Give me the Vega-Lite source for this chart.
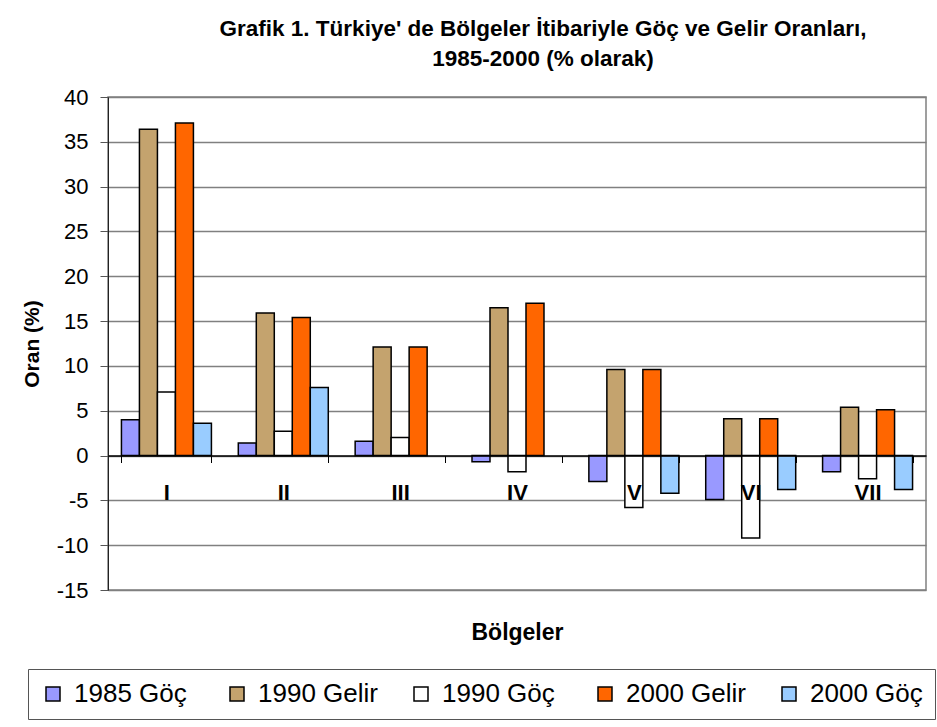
{
  "$schema": "https://vega.github.io/schema/vega-lite/v6.json",
  "width": 818,
  "height": 493,
  "autosize": {"type": "none"},
  "padding": {"left": 108, "top": 97, "right": 11, "bottom": 137},
  "background": "white",
  "title": {
    "text": ["Grafik 1. Türkiye' de Bölgeler İtibariyle Göç ve Gelir Oranları,", "1985-2000 (% olarak)"],
    "font": "Liberation Sans",
    "fontSize": 22.5,
    "fontWeight": "bold",
    "color": "#000000",
    "anchor": "middle",
    "frame": "group",
    "dx": 26,
    "lineHeight": 30,
    "offset": 16
  },
  "data": {
    "values": [
      {"region": "I", "series": "1985 Göç", "value": 4.0},
      {"region": "I", "series": "1990 Gelir", "value": 36.4},
      {"region": "I", "series": "1990 Göç", "value": 7.1},
      {"region": "I", "series": "2000 Gelir", "value": 37.1},
      {"region": "I", "series": "2000 Göç", "value": 3.6},
      {"region": "II", "series": "1985 Göç", "value": 1.4},
      {"region": "II", "series": "1990 Gelir", "value": 15.9},
      {"region": "II", "series": "1990 Göç", "value": 2.7},
      {"region": "II", "series": "2000 Gelir", "value": 15.4},
      {"region": "II", "series": "2000 Göç", "value": 7.6},
      {"region": "III", "series": "1985 Göç", "value": 1.6},
      {"region": "III", "series": "1990 Gelir", "value": 12.1},
      {"region": "III", "series": "1990 Göç", "value": 2.0},
      {"region": "III", "series": "2000 Gelir", "value": 12.1},
      {"region": "IV", "series": "1985 Göç", "value": -0.7},
      {"region": "IV", "series": "1990 Gelir", "value": 16.5},
      {"region": "IV", "series": "1990 Göç", "value": -1.8},
      {"region": "IV", "series": "2000 Gelir", "value": 17.0},
      {"region": "V", "series": "1985 Göç", "value": -2.9},
      {"region": "V", "series": "1990 Gelir", "value": 9.6},
      {"region": "V", "series": "1990 Göç", "value": -5.8},
      {"region": "V", "series": "2000 Gelir", "value": 9.6},
      {"region": "V", "series": "2000 Göç", "value": -4.2},
      {"region": "VI", "series": "1985 Göç", "value": -4.9},
      {"region": "VI", "series": "1990 Gelir", "value": 4.1},
      {"region": "VI", "series": "1990 Göç", "value": -9.2},
      {"region": "VI", "series": "2000 Gelir", "value": 4.1},
      {"region": "VI", "series": "2000 Göç", "value": -3.8},
      {"region": "VII", "series": "1985 Göç", "value": -1.8},
      {"region": "VII", "series": "1990 Gelir", "value": 5.4},
      {"region": "VII", "series": "1990 Göç", "value": -2.6},
      {"region": "VII", "series": "2000 Gelir", "value": 5.1},
      {"region": "VII", "series": "2000 Göç", "value": -3.8}
    ]
  },
  "mark": {"type": "bar", "stroke": "#000000", "strokeWidth": 1.5, "opacity": 1},
  "encoding": {
    "x": {
      "field": "region",
      "type": "nominal",
      "sort": ["I", "II", "III", "IV", "V", "VI", "VII"],
      "scale": {"paddingInner": 0.23, "paddingOuter": 0.115},
      "axis": {
        "title": "Bölgeler",
        "titleFont": "Liberation Sans",
        "titleFontSize": 23,
        "titleFontWeight": "bold",
        "titleColor": "#000000",
        "titleBaseline": "middle",
        "titleY": 176.5,
        "offset": -134.5,
        "zindex": 2,
        "labelAngle": 0,
        "labelFont": "Liberation Sans",
        "labelFontSize": 22,
        "labelFontWeight": "bold",
        "labelColor": "#000000",
        "labelPadding": 20,
        "labelOverlap": false,
        "tickBand": "extent",
        "tickSize": 7,
        "tickColor": "#000000",
        "tickWidth": 1,
        "domainColor": "#000000",
        "domainWidth": 1.5,
        "grid": false
      }
    },
    "xOffset": {
      "field": "series",
      "type": "nominal",
      "sort": ["1985 Göç", "1990 Gelir", "1990 Göç", "2000 Gelir", "2000 Göç"],
      "scale": {"domain": ["1985 Göç", "1990 Gelir", "1990 Göç", "2000 Gelir", "2000 Göç"], "paddingInner": 0, "paddingOuter": 0}
    },
    "y": {
      "field": "value",
      "type": "quantitative",
      "scale": {"domain": [-15, 40], "nice": false, "zero": false},
      "axis": {
        "title": "Oran (%)",
        "titleFont": "Liberation Sans",
        "titleFontSize": 21,
        "titleFontWeight": "bold",
        "titleColor": "#000000",
        "titlePadding": 14,
        "values": [-15, -10, -5, 0, 5, 10, 15, 20, 25, 30, 35, 40],
        "labelExpr": "'' + datum.value",
        "labelFont": "Liberation Sans",
        "labelFontSize": 22,
        "labelColor": "#000000",
        "labelPadding": 12,
        "tickSize": 8,
        "tickColor": "#555555",
        "domainColor": "#222222",
        "domainWidth": 1,
        "grid": true,
        "gridColor": "#808080",
        "gridWidth": 1.5,
        "gridOpacity": 1
      }
    },
    "fill": {
      "field": "series",
      "type": "nominal",
      "scale": {
        "domain": ["1985 Göç", "1990 Gelir", "1990 Göç", "2000 Gelir", "2000 Göç"],
        "range": ["#9999FF", "#C4A36E", "#FFFFFF", "#FF6600", "#99CCFF"]
      },
      "legend": {
        "title": null,
        "orient": "none",
        "legendX": -80,
        "legendY": 572,
        "direction": "horizontal",
        "columns": 5,
        "gridAlign": "all",
        "columnPadding": 30,
        "padding": 12,
        "strokeColor": "#555555",
        "fillColor": "#FFFFFF",
        "symbolType": "square",
        "symbolSize": 196,
        "symbolStrokeColor": "#000000",
        "symbolStrokeWidth": 1.5,
        "symbolOpacity": 1,
        "labelFont": "Liberation Sans",
        "labelFontSize": 26,
        "labelColor": "#000000",
        "labelOffset": 8,
        "labelLimit": 200
      }
    }
  },
  "config": {
    "font": "Liberation Sans",
    "view": {"stroke": "#808080", "strokeWidth": 1.5}
  }
}
